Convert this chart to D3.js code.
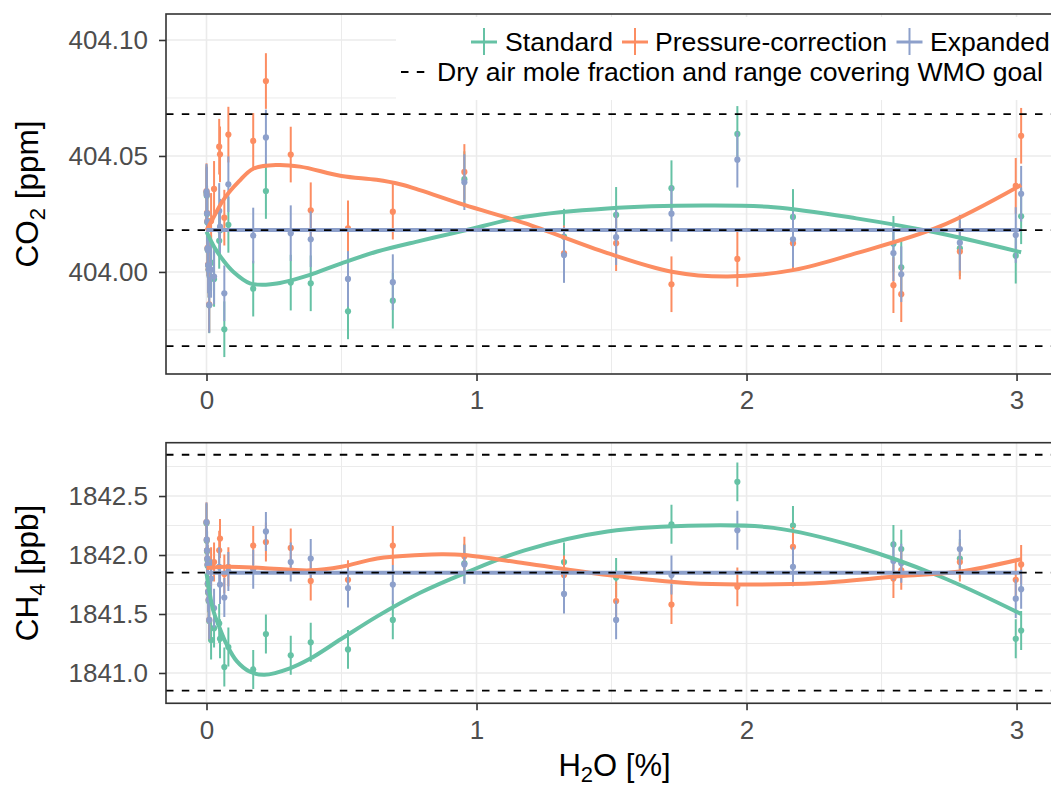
<!DOCTYPE html>
<html><head><meta charset="utf-8">
<script src="https://cdn.jsdelivr.net/npm/d3@7"></script>
<style>
body{margin:0;background:#fff;}
svg{display:block;font-family:"Liberation Sans",Arial,Helvetica,sans-serif;}
</style>
</head><body>
<svg id="chart" width="1051" height="786"></svg>
<script>
// ---------------- DATA ----------------
const seriesNames = ["Standard", "Pressure-correction", "Expanded"];
const refLabel = "Dry air mole fraction and range covering WMO goal";

const h2o = [0.000,0.001,0.002,0.003,0.004,0.005,0.006,0.008,0.010,0.017,0.028,0.047,0.050,0.066,0.081,
  0.173,0.220,0.312,0.386,0.524,0.690,0.955,1.324,1.517,1.722,1.966,2.172,2.544,2.573,2.790,2.997,3.017];

const co2Standard = [404.0340,404.0328,404.0250,404.0214,404.0100,404.0093,404.0028,404.0008,403.9856,404.0040,403.9970,
  404.0134,404.0180,403.9753,404.0203,403.9928,404.0349,403.9954,403.9951,403.9830,403.9876,404.0400,404.0152,404.0246,
  404.0361,404.0595,404.0237,404.0121,404.0020,404.0102,404.0070,404.0240];
const co2Pressure = [404.0348,404.0334,404.0255,404.0219,404.0104,404.0097,404.0032,404.0012,403.9860,404.0220,404.0358,
  404.0540,404.0507,404.0234,404.0592,404.0565,404.0823,404.0506,404.0266,404.0188,404.0260,404.0431,404.0080,404.0124,
  403.9947,404.0056,404.0124,403.9943,403.9904,404.0088,404.0371,404.0587];
const co2Expanded = [404.0346,404.0332,404.0253,404.0217,404.0102,404.0095,404.0030,404.0010,403.9858,404.0009,403.9980,
  404.0263,404.0195,403.9908,404.0378,404.0157,404.0580,404.0167,404.0141,403.9970,403.9956,404.0387,404.0073,404.0150,
  404.0251,404.0484,404.0141,404.0081,403.9990,404.0126,404.0159,404.0337];
const co2Uncertainty = 0.012;

const ch4Standard = [1842.27,1842.12,1842.03,1841.96,1841.91,1841.75,1841.68,1841.61,1841.44,1841.28,1841.38,
  1841.42,1841.29,1841.05,1841.22,1841.03,1841.33,1841.15,1841.26,1841.20,1841.45,1841.93,1841.94,1841.81,
  1842.26,1842.62,1842.25,1842.09,1842.05,1841.97,1841.29,1841.36];
const ch4Pressure = [1842.28,1842.13,1842.04,1841.97,1841.92,1841.76,1841.69,1841.62,1841.45,1841.90,1841.94,
  1842.04,1842.14,1841.84,1841.90,1842.08,1842.11,1842.06,1841.78,1841.79,1842.08,1841.99,1841.83,1841.61,
  1841.58,1841.73,1842.07,1841.80,1841.87,1841.94,1841.79,1841.92];
const ch4Expanded = [1842.28,1842.13,1842.04,1841.97,1841.92,1841.76,1841.69,1841.62,1841.45,1841.80,1841.55,
  1841.90,1841.75,1841.64,1841.86,1841.88,1842.20,1841.94,1841.97,1841.72,1841.75,1841.92,1841.67,1841.45,
  1841.83,1842.21,1841.90,1841.95,1841.93,1842.05,1841.63,1841.71];
const ch4Uncertainty = 0.165;

// smoothed fit curves: [H2O, value]
const co2FitStandard = [[0,404.0174],[0.028,404.0109],[0.062,404.0050],[0.099,404.0001],[0.161,403.9951],[0.22,403.9945],
  [0.26,403.9950],[0.321,403.9966],[0.383,403.9987],[0.5,404.0037],[0.632,404.0088],[0.791,404.0134],[0.955,404.0178],
  [1.178,404.0238],[1.485,404.0274],[1.838,404.0286],[2.1,404.0279],[2.407,404.0231],[2.715,404.0167],[3.017,404.0085]];
const co2FitPressure = [[0,404.0180],[0.021,404.0224],[0.062,404.0310],[0.12,404.0390],[0.173,404.0445],[0.26,404.0461],
  [0.346,404.0454],[0.5,404.0414],[0.63,404.0397],[0.717,404.0378],[0.79,404.0353],[0.955,404.0289],[1.178,404.0210],
  [1.485,404.0081],[1.723,404.0001],[1.931,403.9980],[2.177,404.0009],[2.407,404.0081],[2.714,404.0195],[3.017,404.0375]];
const co2FitExpanded = [[0,404.0181],[3.017,404.0181]];

const ch4FitStandard = [[0,1841.845],[0.013,1841.66],[0.025,1841.53],[0.044,1841.41],[0.075,1841.24],[0.112,1841.10],
  [0.161,1841.01],[0.215,1840.985],[0.309,1841.04],[0.383,1841.12],[0.5,1841.29],[0.632,1841.48],[0.791,1841.68],
  [0.955,1841.845],[1.178,1842.04],[1.485,1842.20],[1.838,1842.25],[2.1,1842.23],[2.407,1842.07],[2.715,1841.82],[3.017,1841.50]];
const ch4FitPressure = [[0,1841.89],[0.079,1841.90],[0.207,1841.89],[0.383,1841.87],[0.5,1841.90],[0.632,1841.97],
  [0.791,1842.00],[0.87,1842.006],[0.955,1842.0],[1.178,1841.93],[1.485,1841.83],[1.793,1841.76],[1.99,1841.75],
  [2.254,1841.76],[2.561,1841.82],[2.791,1841.86],[3.017,1841.965]];
const ch4FitExpanded = [[0,1841.85],[3.017,1841.85]];

const co2Reference = [403.968, 404.018, 404.068];
const ch4Reference = [1840.85, 1841.85, 1842.85];

const xTicks = [0, 1, 2, 3];
const xMinor = [0.5, 1.5, 2.5];
const co2Ticks = [404.00, 404.05, 404.10];
const co2Minor = [403.975, 404.025, 404.075];
const ch4Ticks = [1841.0, 1841.5, 1842.0, 1842.5];
const ch4Minor = [1840.75, 1841.25, 1841.75, 1842.25, 1842.75];

// ---------------- LAYOUT ----------------
const colors = ["#66c2a5", "#fc8d62", "#8da0cb"];
const svg = d3.select("#chart");
const left = 166, right = 1063;
const x = d3.scaleLinear().domain([-0.15, 3.172]).range([left, right]);

const panels = [
  {top: 14, bottom: 374, domain: [403.956, 404.1112], ticks: co2Ticks, minor: co2Minor, fmt: d3.format(".2f"),
   series: [co2Standard, co2Pressure, co2Expanded], err: co2Uncertainty,
   fits: [co2FitStandard, co2FitPressure, co2FitExpanded], ref: co2Reference, title: ["CO", "2", " [ppm]"]},
  {top: 442.7, bottom: 703.3, domain: [1840.743, 1842.952], ticks: ch4Ticks, minor: ch4Minor, fmt: d3.format(".1f"),
   series: [ch4Standard, ch4Pressure, ch4Expanded], err: ch4Uncertainty,
   fits: [ch4FitStandard, ch4FitPressure, ch4FitExpanded], ref: ch4Reference, title: ["CH", "4", " [ppb]"]}
];

panels.forEach((p, pi) => {
  const y = d3.scaleLinear().domain(p.domain).range([p.bottom, p.top]);
  const g = svg.append("g");
  const clipId = "clip" + pi;
  svg.append("clipPath").attr("id", clipId).append("rect")
    .attr("x", left).attr("y", p.top).attr("width", right - left).attr("height", p.bottom - p.top);

  // grid
  const grid = g.append("g");
  grid.selectAll(".ym").data(p.minor).join("line")
    .attr("x1", left).attr("x2", right).attr("y1", d => y(d)).attr("y2", d => y(d))
    .attr("stroke", "#ebebeb").attr("stroke-width", 1);
  grid.selectAll(".xm").data(xMinor).join("line")
    .attr("y1", p.top).attr("y2", p.bottom).attr("x1", d => x(d)).attr("x2", d => x(d))
    .attr("stroke", "#ebebeb").attr("stroke-width", 1);
  grid.selectAll(".yM").data(p.ticks).join("line")
    .attr("x1", left).attr("x2", right).attr("y1", d => y(d)).attr("y2", d => y(d))
    .attr("stroke", "#ebebeb").attr("stroke-width", 1.6);
  grid.selectAll(".xM").data(xTicks).join("line")
    .attr("y1", p.top).attr("y2", p.bottom).attr("x1", d => x(d)).attr("x2", d => x(d))
    .attr("stroke", "#ebebeb").attr("stroke-width", 1.6);

  const marks = g.append("g").attr("clip-path", `url(#${clipId})`);

  // error bars + points
  p.series.forEach((vals, si) => {
    const data = vals.map((v, i) => ({x: h2o[i], v}));
    const sg = marks.append("g");
    sg.selectAll("line").data(data).join("line")
      .attr("x1", d => x(d.x)).attr("x2", d => x(d.x))
      .attr("y1", d => y(d.v - p.err)).attr("y2", d => y(d.v + p.err))
      .attr("stroke", colors[si]).attr("stroke-width", 2);
    sg.selectAll("circle").data(data).join("circle")
      .attr("cx", d => x(d.x)).attr("cy", d => y(d.v)).attr("r", 3.1)
      .attr("fill", colors[si]);
  });

  // fitted curves
  const line = d3.line().x(d => x(d[0])).y(d => y(d[1])).curve(d3.curveCatmullRom.alpha(0.5));
  p.fits.forEach((f, si) => {
    marks.append("path").attr("d", line(f)).attr("fill", "none")
      .attr("stroke", colors[si]).attr("stroke-width", 4).attr("stroke-linecap", "butt");
  });

  // reference dashed lines
  marks.selectAll(".ref").data(p.ref).join("line")
    .attr("x1", left).attr("x2", right).attr("y1", d => y(d)).attr("y2", d => y(d))
    .attr("stroke", "#000").attr("stroke-width", 1.8).attr("stroke-dasharray", "7.5,8.3");

  // legend (top panel only)
  if (pi === 0) {
    const lg = g.append("g");
    lg.append("rect").attr("x", 396).attr("y", 17).attr("width", 700).attr("height", 83).attr("fill", "#fff");
    const keyX = [484, 635, 909.5], textX = [505, 655, 930];
    seriesNames.forEach((n, i) => {
      lg.append("line").attr("x1", keyX[i] - 13).attr("x2", keyX[i] + 13).attr("y1", 42).attr("y2", 42)
        .attr("stroke", colors[i]).attr("stroke-width", 3);
      lg.append("line").attr("x1", keyX[i]).attr("x2", keyX[i]).attr("y1", 28).attr("y2", 55)
        .attr("stroke", colors[i]).attr("stroke-width", 2);
      lg.append("text").attr("x", textX[i]).attr("y", 50.5).attr("font-size", 26.6).attr("fill", "#000").text(n);
    });
    lg.append("line").attr("x1", 401).attr("x2", 431).attr("y1", 72).attr("y2", 72)
      .attr("stroke", "#000").attr("stroke-width", 1.8).attr("stroke-dasharray", "7.5,8.3");
    lg.append("text").attr("x", 437).attr("y", 80.5).attr("font-size", 26.6).attr("fill", "#000").text(refLabel);
  }

  // border
  g.append("rect").attr("x", left).attr("y", p.top).attr("width", right - left).attr("height", p.bottom - p.top)
    .attr("fill", "none").attr("stroke", "#333").attr("stroke-width", 1.6);

  // axes
  const ya = g.append("g").attr("transform", `translate(${left},0)`)
    .call(d3.axisLeft(y).tickValues(p.ticks).tickFormat(p.fmt).tickSize(7).tickPadding(11));
  const xa = g.append("g").attr("transform", `translate(0,${p.bottom})`)
    .call(d3.axisBottom(x).tickValues(xTicks).tickFormat(d3.format("d")).tickSize(7).tickPadding(10));
  [ya, xa].forEach(a => {
    a.select(".domain").remove();
    a.selectAll(".tick line").attr("stroke", "#333").attr("stroke-width", 1.6);
    a.selectAll(".tick text").attr("fill", "#4d4d4d").attr("font-size", 26)
      .attr("font-family", '"Liberation Sans",Arial,Helvetica,sans-serif');
  });

  // y title
  const cy = (p.top + p.bottom) / 2;
  const t = g.append("text").attr("transform", `translate(37.5,${cy}) rotate(-90)`)
    .attr("text-anchor", "middle").attr("font-size", 31.5).attr("fill", "#000");
  t.append("tspan").text(p.title[0]);
  t.append("tspan").attr("font-size", 22).attr("dy", 7).text(p.title[1]);
  t.append("tspan").attr("dy", -7).text(p.title[2]);
});

// x title
const xt = svg.append("text").attr("x", (left + right) / 2).attr("y", 776)
  .attr("text-anchor", "middle").attr("font-size", 31).attr("fill", "#000");
xt.append("tspan").text("H");
xt.append("tspan").attr("font-size", 22).attr("dy", 6).text("2");
xt.append("tspan").attr("dy", -6).text("O [%]");
</script>
</body></html>
